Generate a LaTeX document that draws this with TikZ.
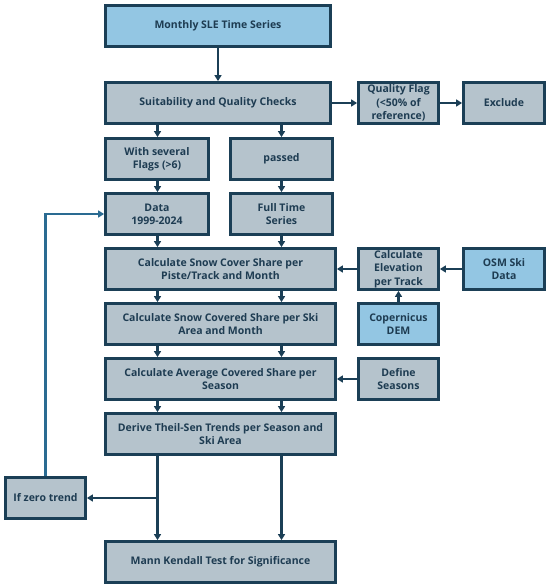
\documentclass[tikz,border=0pt]{standalone}
\usepackage{fontspec}
\setmainfont{Open Sans}
\usetikzlibrary{arrows.meta}
\definecolor{bfill}{HTML}{93C6E3}
\definecolor{gfill}{HTML}{B5C3CC}
\definecolor{edge}{HTML}{1B3F56}
\definecolor{txt}{HTML}{1E3C52}
\definecolor{loopc}{HTML}{2A6B92}
\tikzset{
  box/.style={draw=edge, line width=2.8pt, fill=gfill, inner sep=0pt, align=center,
    font=\fontsize{10.5}{13.3}\selectfont\bfseries, text=txt},
  bluebox/.style={box, fill=bfill},
  arr/.style={draw=edge, line width=2.4pt, -{Triangle[length=6pt,width=7pt]}},
  loopar/.style={draw=loopc, line width=2.4pt, -{Triangle[length=6pt,width=7pt]}},
}
\begin{document}
\begin{tikzpicture}[x=1pt,y=-1pt]
\useasboundingbox[fill=white] (0,0) rectangle (550,588);
\node[bluebox, minimum width=225pt, minimum height=41pt] (top) at (218,26) {Monthly SLE Time Series};
\node[box, minimum width=225pt, minimum height=41pt] (suit) at (218,103) {Suitability and Quality Checks};
\node[box, minimum width=80pt, minimum height=41pt] (qf) at (398.5,103) {Quality Flag\\(<50\% of\\reference)};
\node[box, minimum width=81pt, minimum height=41pt] (excl) at (504,103) {Exclude};
\node[box, minimum width=103pt, minimum height=41pt] (flags) at (157,159) {With several\\Flags (>6)};
\node[box, minimum width=102pt, minimum height=41pt] (passed) at (281.5,159) {passed};
\node[box, minimum width=103pt, minimum height=41pt] (data) at (157,214) {Data\\1999-2024};
\node[box, minimum width=102pt, minimum height=41pt] (full) at (281.5,214) {Full Time\\Series};
\node[box, minimum width=230pt, minimum height=41pt] (cover) at (220.5,269) {Calculate Snow Cover Share per\\Piste/Track and Month};
\node[box, minimum width=80pt, minimum height=41pt] (elev) at (398.5,269) {Calculate\\Elevation\\per Track};
\node[bluebox, minimum width=81pt, minimum height=41pt] (osm) at (504,269) {OSM Ski\\Data};
\node[box, minimum width=230pt, minimum height=41pt] (covered) at (220.5,324) {Calculate Snow Covered Share per Ski\\Area and Month};
\node[bluebox, minimum width=80pt, minimum height=41pt] (dem) at (398.5,324) {Copernicus\\DEM};
\node[box, minimum width=230pt, minimum height=41pt] (avg) at (220.5,379) {Calculate Average Covered Share per\\Season};
\node[box, minimum width=80pt, minimum height=41pt] (seas) at (398.5,379) {Define\\Seasons};
\node[box, minimum width=230pt, minimum height=41pt] (theil) at (220.5,434) {Derive Theil-Sen Trends per Season and\\Ski Area};
\node[box, minimum width=80pt, minimum height=41pt] (zero) at (45.5,498) {If zero trend};
\node[box, minimum width=230pt, minimum height=41pt] (mk) at (220.5,562) {Mann Kendall Test for Significance};
\coordinate (cA) at (157.5,0);
\coordinate (cB) at (281.5,0);
\draw[arr] (top.south) -- (suit.north);
\draw[arr] (suit.east) -- (qf.west);
\draw[arr] (qf.east) -- (excl.west);
\draw[arr] (suit.south -| cA) -- (flags.north -| cA);
\draw[arr] (suit.south -| cB) -- (passed.north -| cB);
\draw[arr] (flags.south -| cA) -- (data.north -| cA);
\draw[arr] (passed.south -| cB) -- (full.north -| cB);
\draw[arr] (data.south -| cA) -- (cover.north -| cA);
\draw[arr] (full.south -| cB) -- (cover.north -| cB);
\draw[arr] (elev.west) -- (cover.east);
\draw[arr] (osm.west) -- (elev.east);
\draw[arr] (dem.north) -- (elev.south);
\draw[arr] (cover.south -| cA) -- (covered.north -| cA);
\draw[arr] (cover.south -| cB) -- (covered.north -| cB);
\draw[arr] (covered.south -| cA) -- (avg.north -| cA);
\draw[arr] (covered.south -| cB) -- (avg.north -| cB);
\draw[arr] (seas.west) -- (avg.east);
\draw[arr] (avg.south -| cA) -- (theil.north -| cA);
\draw[arr] (avg.south -| cB) -- (theil.north -| cB);
\draw[arr] (theil.south -| cA) -- (mk.north -| cA);
\draw[arr] (theil.south -| cB) -- (mk.north -| cB);
\draw[arr] (zero.east -| cA) -- (zero.east);
\draw[loopar] (zero.north) |- (data.west);
\end{tikzpicture}
\end{document}
